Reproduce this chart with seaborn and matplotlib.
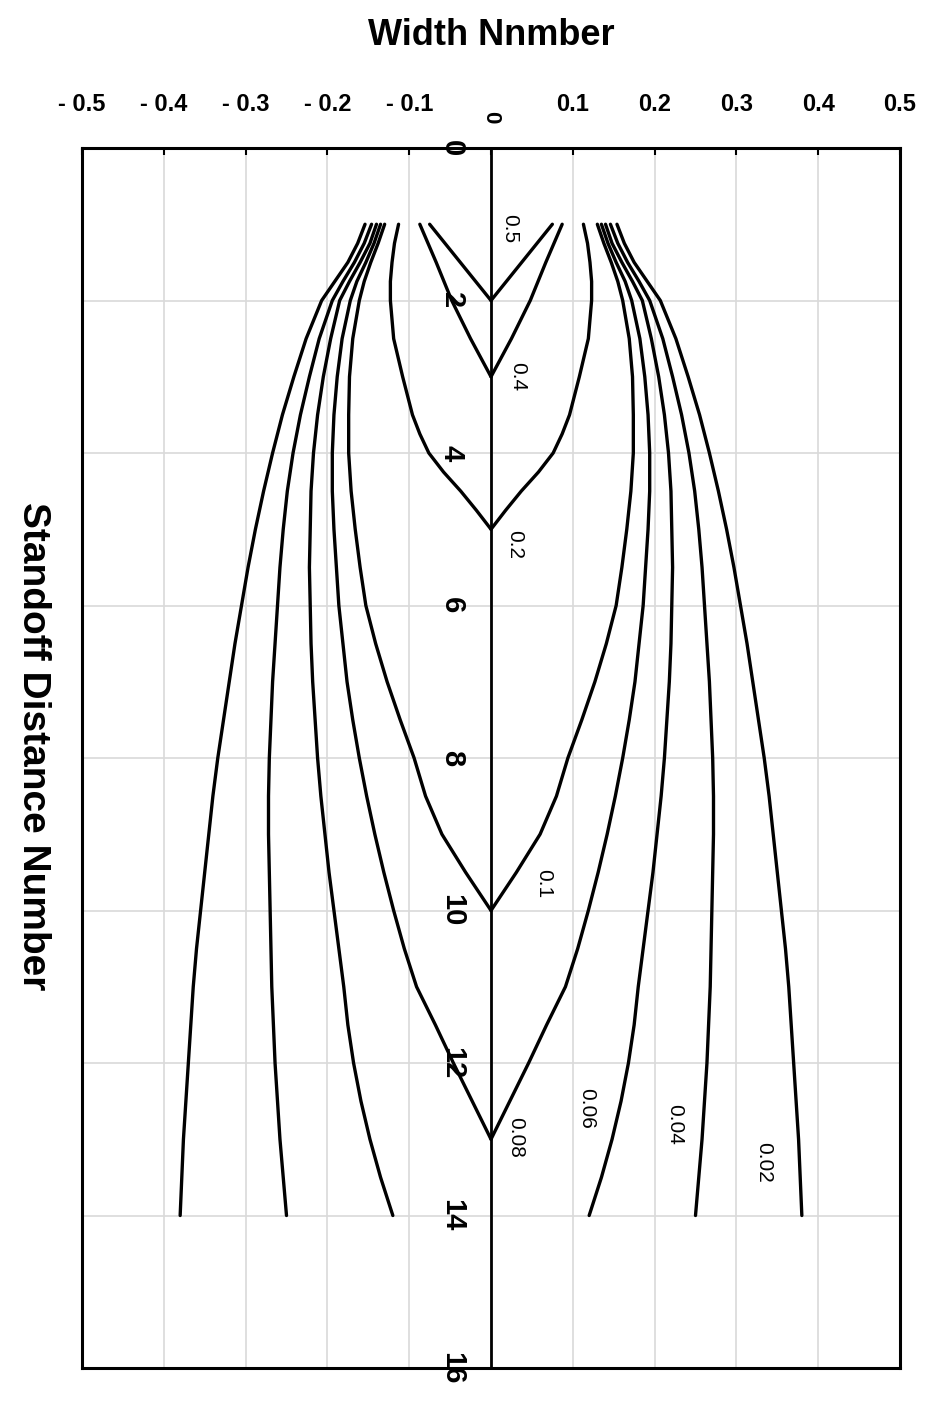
import matplotlib
matplotlib.use("Agg")
import matplotlib.pyplot as plt
import numpy as np
import pandas as pd
import seaborn as sns

# --- data (half-widths, the chart is symmetric) ---
LEVELS = ["0.5", "0.4", "0.2", "0.1", "0.08", "0.06", "0.04", "0.02"]

LONG = [1.0, 1.25, 1.5, 1.75, 2.0, 2.5, 3.0, 3.5, 4.0, 4.5, 5.0, 5.5, 6.0, 6.5,
        7.0, 7.5, 8.0, 8.5, 9.0, 9.5, 10.0, 10.5, 11.0, 11.5, 12.0, 12.5,
        13.0, 13.5, 14.0]
STANDOFF = [
    [1.0, 2.0],
    [1.0, 1.5, 2.0, 2.5, 3.0],
    [1.0, 1.25, 1.5, 1.75, 2.0, 2.5, 3.0, 3.5, 3.75, 4.0, 4.25, 4.5, 4.75, 5.0],
    LONG[:21],
    LONG[:27],
    LONG,
    LONG,
    LONG,
]
HALF_WIDTH = [
    [0.075, 0.0],
    [0.087, 0.067, 0.048, 0.025, 0.0],
    [0.113, 0.118, 0.121, 0.123, 0.123, 0.119, 0.108, 0.096, 0.087, 0.076,
     0.058, 0.037, 0.018, 0.0],
    [0.130, 0.138, 0.147, 0.155, 0.161, 0.169, 0.173, 0.174, 0.174, 0.171,
     0.166, 0.160, 0.153, 0.141, 0.127, 0.111, 0.094, 0.080, 0.060, 0.031,
     0.0],
    [0.135, 0.143, 0.153, 0.164, 0.172, 0.182, 0.188, 0.192, 0.194, 0.194,
     0.192, 0.189, 0.186, 0.181, 0.176, 0.169, 0.161, 0.152, 0.142, 0.131,
     0.119, 0.106, 0.091, 0.068, 0.046, 0.023, 0.0],
    [0.140, 0.148, 0.160, 0.173, 0.185, 0.196, 0.205, 0.212, 0.217, 0.220,
     0.221, 0.222, 0.221, 0.220, 0.218, 0.215, 0.212, 0.208, 0.203, 0.198,
     0.192, 0.186, 0.180, 0.175, 0.168, 0.159, 0.148, 0.135, 0.120],
    [0.146, 0.155, 0.167, 0.181, 0.194, 0.210, 0.222, 0.233, 0.242, 0.249,
     0.254, 0.258, 0.261, 0.264, 0.267, 0.269, 0.271, 0.272, 0.272, 0.271,
     0.270, 0.269, 0.268, 0.266, 0.264, 0.261, 0.258, 0.254, 0.250],
    [0.154, 0.163, 0.175, 0.191, 0.207, 0.226, 0.241, 0.255, 0.267, 0.278,
     0.288, 0.297, 0.305, 0.313, 0.320, 0.327, 0.334, 0.340, 0.345, 0.350,
     0.355, 0.360, 0.364, 0.367, 0.370, 0.373, 0.376, 0.378, 0.380],
]
# where each contour value is written
LABEL_X = [0.023, 0.033, 0.029, 0.064, 0.030, 0.117, 0.225, 0.333]
LABEL_Y = [1.05, 3.0, 5.2, 9.65, 12.98, 12.6, 12.8, 13.3]

XTICKS = [-0.5, -0.4, -0.3, -0.2, -0.1, 0.0, 0.1, 0.2, 0.3, 0.4, 0.5]
XTICK_LABELS = ["- 0.5", "- 0.4", "- 0.3", "- 0.2", "- 0.1", "",
                "0.1", "0.2", "0.3", "0.4", "0.5"]
YTICKS = [0, 2, 4, 6, 8, 10, 12, 14, 16]

sns.set_style("white")
plt.rcParams["font.family"] = ["Liberation Sans", "DejaVu Sans"]
plt.rcParams.update({"text.color": "black", "axes.labelcolor": "black",
                     "xtick.color": "black", "ytick.color": "black"})

# long table, one unit per branch (left / right of the axis)
rows = []
for lev, ys, hw in zip(LEVELS, STANDOFF, HALF_WIDTH):
    for side, sign in (("L", -1), ("R", 1)):
        for y, w in zip(ys, hw):
            rows.append({"level": lev, "branch": f"{lev}_{side}",
                         "width": sign * w, "standoff": y})
df = pd.DataFrame(rows)

fig = plt.figure(figsize=(9.3, 14.02), dpi=100)
ax = fig.add_axes([82 / 930, 1 - 1368 / 1402, 818 / 930, 1220 / 1402])

# grid first so it sits under the curves
for x in XTICKS[1:-1]:
    ax.axvline(x, color="#d9d9d9", lw=1.2, zorder=0)
for y in YTICKS[1:-1]:
    ax.axhline(y, color="#d9d9d9", lw=1.2, zorder=0)
ax.axvline(0, color="black", lw=2.0, zorder=2)

sns.lineplot(data=df, x="width", y="standoff", units="branch", estimator=None,
             sort=False, color="black", linewidth=2.4, legend=False, ax=ax,
             zorder=3)
for ln in ax.lines:
    ln.set_solid_joinstyle("round")

for lab, lx, ly in zip(LEVELS, LABEL_X, LABEL_Y):
    ax.text(lx, ly, lab, rotation=-90, ha="center", va="center", fontsize=15)

ax.set_xlim(-0.5, 0.5)
ax.set_ylim(16, 0)

ax.xaxis.tick_top()
ax.set_xticks(XTICKS)
ax.set_xticklabels(XTICK_LABELS, fontsize=17, fontweight="bold")
ax.tick_params(axis="x", direction="in", length=5, width=1.5, pad=23)
ax.text(0, 1.0255, "0", transform=ax.get_xaxis_transform(), rotation=-90,
        ha="center", va="center", fontsize=16, fontweight="bold")

ax.set_yticks(YTICKS)
ax.set_yticklabels([])
ax.tick_params(axis="y", length=0)
for y in YTICKS:
    ax.text(-0.048, y, str(y), rotation=-90, ha="center", va="center",
            fontsize=21, fontweight="bold", zorder=5, clip_on=False)

for sp in ax.spines.values():
    sp.set_color("black")
    sp.set_linewidth(2.2)

ax.set_xlabel("Width Nnmber", fontsize=26, fontweight="bold")
ax.xaxis.set_label_position("top")
ax.xaxis.set_label_coords(0.5, 1.092)
ax.xaxis.label.set_va("center")
ax.set_ylabel("Standoff Distance Number", fontsize=28, fontweight="bold",
              rotation=-90)
ax.yaxis.set_label_coords(-0.06, 0.51)
ax.yaxis.label.set_va("center")

fig.savefig("out.png", dpi=100)
